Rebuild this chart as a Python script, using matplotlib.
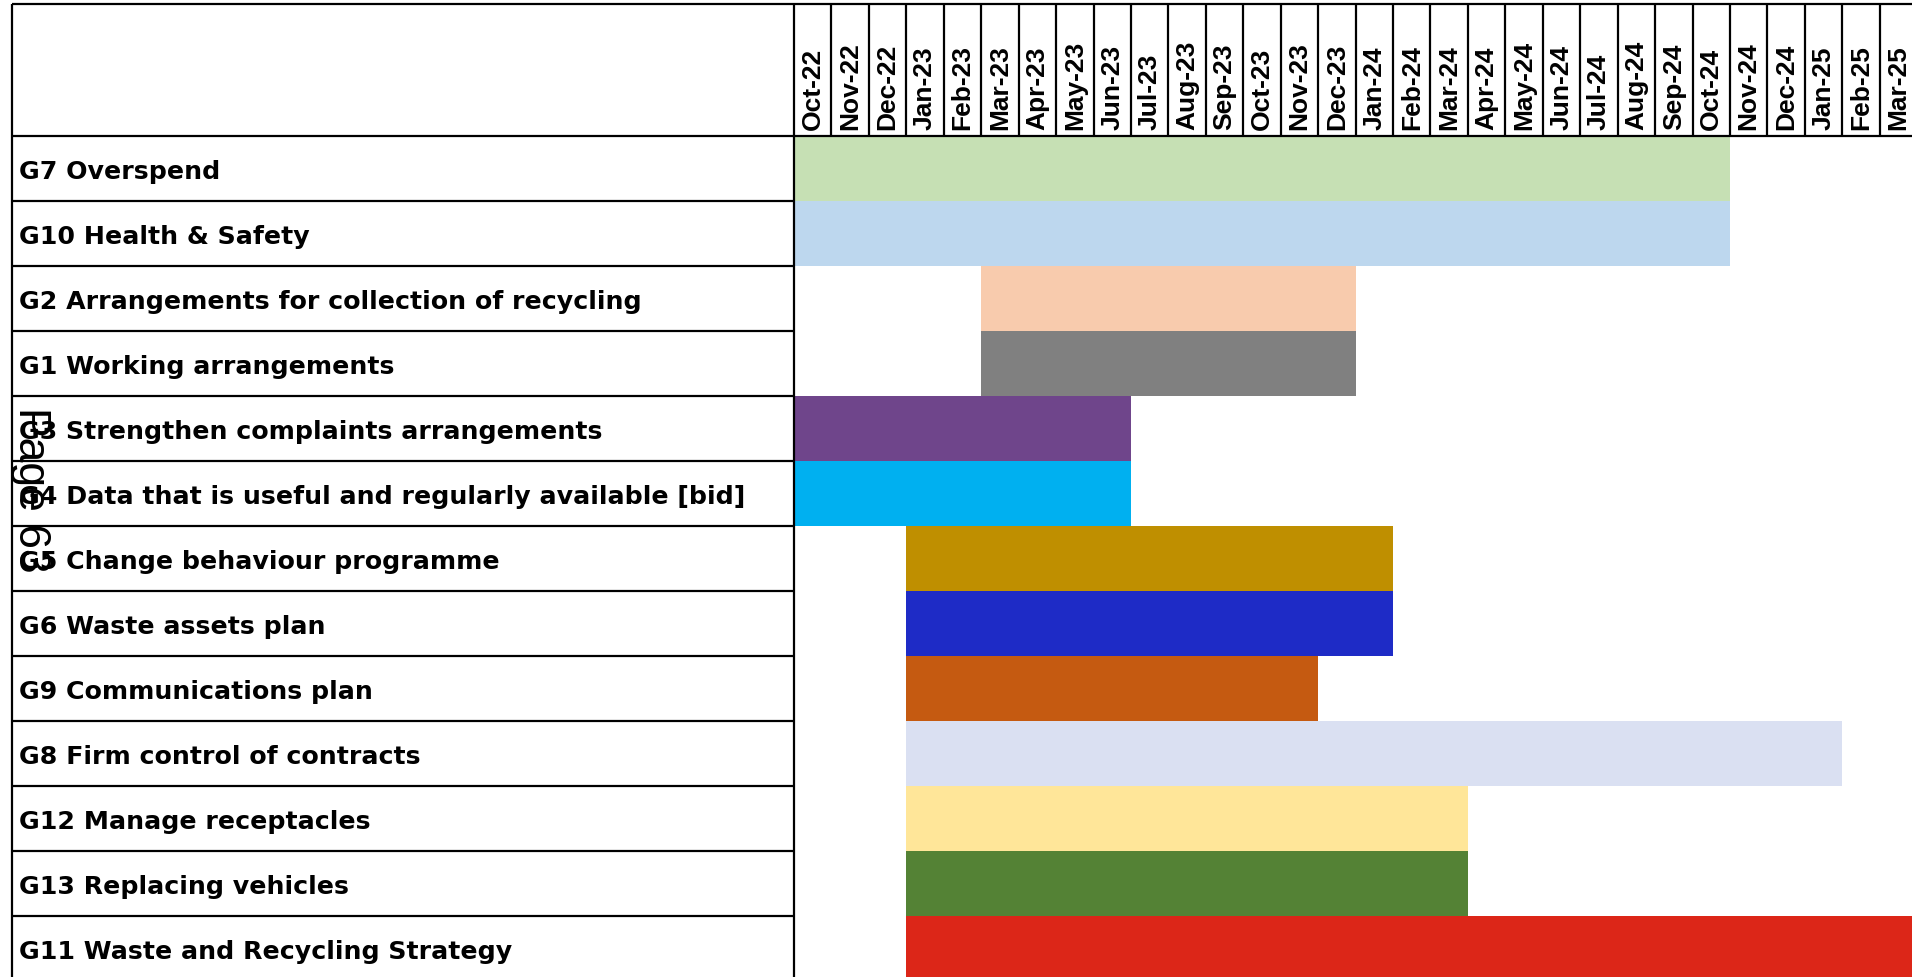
import matplotlib
matplotlib.use('Agg')
import matplotlib.pyplot as plt
from matplotlib import font_manager

# ---- data ----
months = ['Oct-22', 'Nov-22', 'Dec-22', 'Jan-23', 'Feb-23', 'Mar-23', 'Apr-23', 'May-23',
          'Jun-23', 'Jul-23', 'Aug-23', 'Sep-23', 'Oct-23', 'Nov-23', 'Dec-23', 'Jan-24',
          'Feb-24', 'Mar-24', 'Apr-24', 'May-24', 'Jun-24', 'Jul-24', 'Aug-24', 'Sep-24',
          'Oct-24', 'Nov-24', 'Dec-24', 'Jan-25', 'Feb-25', 'Mar-25']

tasks = ['G7 Overspend',
         'G10 Health & Safety',
         'G2 Arrangements for collection of recycling',
         'G1 Working arrangements',
         'G3 Strengthen complaints arrangements',
         'G4 Data that is useful and regularly available [bid]',
         'G5 Change behaviour programme',
         'G6 Waste assets plan',
         'G9 Communications plan',
         'G8 Firm control of contracts',
         'G12 Manage receptacles',
         'G13 Replacing vehicles',
         'G11 Waste and Recycling Strategy']

# first and last month of each task
start_month = ['Oct-22', 'Oct-22', 'Mar-23', 'Mar-23', 'Oct-22', 'Oct-22', 'Jan-23',
               'Jan-23', 'Jan-23', 'Jan-23', 'Jan-23', 'Jan-23', 'Jan-23']
end_month = ['Oct-24', 'Oct-24', 'Dec-23', 'Dec-23', 'Jun-23', 'Jun-23', 'Jan-24',
             'Jan-24', 'Nov-23', 'Jan-25', 'Mar-24', 'Mar-24', 'Mar-25']

bar_colors = ['#C6E0B4', '#BDD7EE', '#F8CBAD', '#808080', '#6F458B', '#00B0F0', '#BF8F00',
              '#1E2BC6', '#C55A11', '#DAE0F2', '#FFE699', '#548235', '#DC2618']

# ---- layout (pixels of the 1912x977 picture) ----
W, H = 1912, 977
x0_px = 794      # where Oct-22 starts
col_px = 37.44   # width of one month
hdr_top_px = 4
hdr_bot_px = 136
row_px = 65
left_px = 12

fig = plt.figure(figsize=(W / 100, H / 100), dpi=100)
ax = fig.add_axes([0, 0, 1, 1])
ax.set_xlim(-x0_px / col_px, (W - x0_px) / col_px)
ax.set_ylim((H - hdr_bot_px) / row_px, -hdr_bot_px / row_px)
ax.axis('off')

x_left = (left_px - x0_px) / col_px
y_top = (hdr_top_px - hdr_bot_px) / row_px
x_right = len(months)
n = len(tasks)

# bars
for i, t in enumerate(tasks):
    s = months.index(start_month[i])
    e = months.index(end_month[i]) + 1
    ax.barh(i, e - s, left=s, height=1.0, align='edge', color=bar_colors[i],
            edgecolor='none', zorder=1)

# label column lines
lw = 1.6
ax.hlines(range(1, n + 1), x_left, 0, color='black', lw=lw, zorder=3)
ax.vlines([x_left, 0], y_top, n + 1, color='black', lw=lw, zorder=3)
# header box
ax.hlines([y_top, 0], x_left, x_right + 1, color='black', lw=lw, zorder=3)
ax.vlines(range(1, len(months) + 1), y_top, 0, color='black', lw=lw, zorder=3)

names = [f.name for f in font_manager.fontManager.ttflist]
month_font = 'Liberation Sans Narrow' if 'Liberation Sans Narrow' in names else 'Liberation Sans'
month_size = 23.5 if month_font == 'Liberation Sans Narrow' else 19

for j, m in enumerate(months):
    ax.text(j + 0.5, -0.09, m, rotation=90, ha='center', va='bottom',
            fontsize=month_size, fontweight='bold', family=month_font, zorder=4)

for i, t in enumerate(tasks):
    ax.text(x_left + 0.18, i + 0.55, t, ha='left', va='center', fontsize=18.2,
            fontweight='bold', family='DejaVu Sans', zorder=4)

fig.text(30 / W, 1 - 490 / H, 'Page 63', rotation=-90, ha='center', va='center',
         fontsize=32, family='Liberation Sans', color='black')

fig.savefig('out.png', dpi=100)
